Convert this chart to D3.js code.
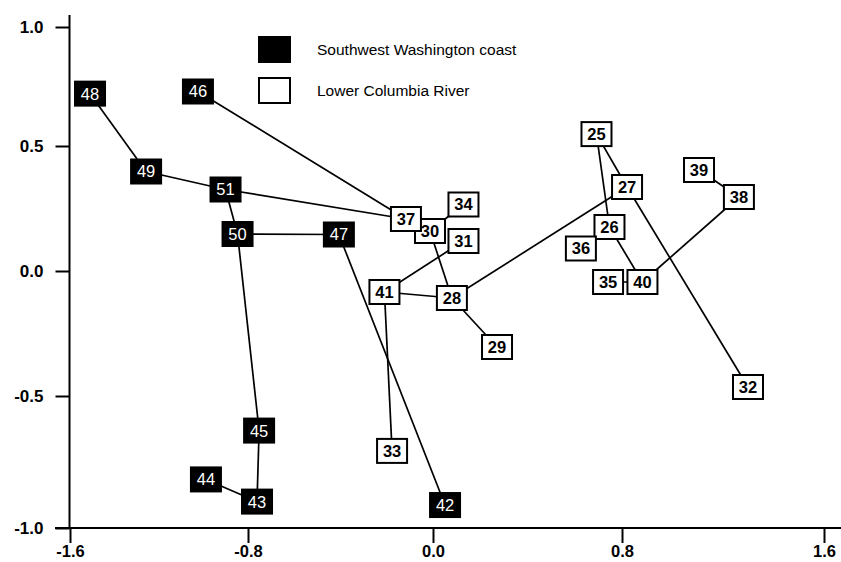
<!DOCTYPE html>
<html>
<head>
<meta charset="utf-8">
<script src="https://cdn.jsdelivr.net/npm/d3@7"></script>
<style>
  html, body { margin: 0; padding: 0; background: #fff; }
  svg { display: block; font-family: "Liberation Sans", Arial, sans-serif; }
</style>
</head>
<body>
<svg id="chart" width="841" height="562"></svg>
<script>
// ---- data ----
const coastIds = ["48", "46", "49", "51", "50", "47", "45", "44", "43", "42"];
const coastX   = [-1.510, -1.025, -1.258, -0.901, -0.847, -0.407, -0.752, -0.989, -0.761, 0.051];
const coastY   = [0.720, 0.729, 0.398, 0.326, 0.148, 0.146, -0.631, -0.816, -0.900, -0.913];

const riverIds = ["37", "30", "34", "31", "41", "28", "29", "33", "25", "27", "39", "38", "36", "26", "35", "40", "32"];
const riverX   = [-0.117, -0.013, 0.129, 0.129, -0.210, 0.080, 0.271, -0.177, 0.692, 0.820, 1.105, 1.263, 0.626, 0.747, 0.741, 0.881, 1.299];
const riverY   = [0.208, 0.160, 0.266, 0.120, -0.084, -0.108, -0.304, -0.708, 0.550, 0.336, 0.404, 0.296, 0.090, 0.176, -0.044, -0.044, -0.464];

const links = [
  ["48", "49"], ["49", "51"], ["51", "37"], ["46", "37"], ["51", "50"], ["50", "47"],
  ["50", "45"], ["45", "43"], ["44", "43"], ["47", "42"],
  ["37", "30"], ["30", "34"], ["30", "28"], ["31", "41"], ["41", "28"], ["41", "33"],
  ["28", "29"], ["28", "27"], ["27", "25"], ["25", "26"], ["26", "40"], ["40", "35"],
  ["40", "38"], ["38", "39"], ["27", "32"]
];

const xTicks = [-1.6, -0.8, 0.0, 0.8, 1.6];
const yTicks = [-1.0, -0.5, 0.0, 0.5, 1.0];
const legendLabels = ["Southwest Washington coast", "Lower Columbia River"];

// ---- scales (the scanned figure is slightly stretched, so a polylinear scale follows its ticks) ----
const x = d3.scaleLinear().domain(xTicks).range([70, 248, 433, 622, 824]);
const y = d3.scaleLinear().domain(yTicks).range([528, 396, 271, 146, 27]);

const fmt = d => d3.format(".1f")(d).replace("\u2212", "-");

const svg = d3.select("#chart");

const pts = {};
coastIds.forEach((id, i) => pts[id] = {id, x: coastX[i], y: coastY[i], group: 0});
riverIds.forEach((id, i) => pts[id] = {id, x: riverX[i], y: riverY[i], group: 1});

// axes
const axX = 69.5, axY = 528;
const gx = svg.append("g").attr("transform", `translate(0,${axY})`)
  .call(d3.axisBottom(x).tickValues(xTicks).tickFormat(fmt).tickSize(15).tickPadding(2).tickSizeOuter(0));
gx.select(".domain").remove();
gx.selectAll("line").attr("stroke", "#000").attr("stroke-width", 2);
gx.selectAll("text").attr("font-size", 16.5).attr("fill", "#000").attr("font-weight", "bold");

const gy = svg.append("g").attr("transform", `translate(${axX},0)`)
  .call(d3.axisLeft(y).tickValues(yTicks).tickFormat(fmt).tickSize(14).tickPadding(12).tickSizeOuter(0));
gy.select(".domain").remove();
gy.selectAll("line").attr("stroke", "#000").attr("stroke-width", 2);
gy.selectAll("text").attr("font-size", 17).attr("fill", "#000").attr("font-weight", "bold");

svg.append("line").attr("x1", axX).attr("x2", axX).attr("y1", 15).attr("y2", axY)
  .attr("stroke", "#000").attr("stroke-width", 2);
svg.append("line").attr("x1", 55).attr("x2", 841).attr("y1", axY).attr("y2", axY)
  .attr("stroke", "#000").attr("stroke-width", 2);

// links
svg.append("g").selectAll("line").data(links).join("line")
  .attr("x1", d => x(pts[d[0]].x)).attr("y1", d => y(pts[d[0]].y))
  .attr("x2", d => x(pts[d[1]].x)).attr("y2", d => y(pts[d[1]].y))
  .attr("stroke", "#000").attr("stroke-width", 1.7);

// boxes
const bw = 30, bh = 24;
const nodes = svg.append("g").selectAll("g").data(Object.values(pts)).join("g")
  .attr("transform", d => `translate(${x(d.x)},${y(d.y)})`);
nodes.append("rect")
  .attr("x", -bw / 2).attr("y", -bh / 2).attr("width", bw).attr("height", bh)
  .attr("fill", d => d.group === 0 ? "#000" : "#fff")
  .attr("stroke", "#000").attr("stroke-width", 2);
nodes.append("text")
  .attr("text-anchor", "middle").attr("dy", "0.36em")
  .attr("font-size", 16.5)
  .attr("font-weight", d => d.group === 0 ? "normal" : "bold")
  .attr("fill", d => d.group === 0 ? "#fff" : "#000")
  .text(d => d.id);

// legend
const lg = svg.append("g");
legendLabels.forEach((lab, i) => {
  const yy = 37 + i * 41;
  lg.append("rect").attr("x", 259).attr("y", yy).attr("width", 31).attr("height", 25)
    .attr("fill", i === 0 ? "#000" : "#fff").attr("stroke", "#000").attr("stroke-width", 2);
  lg.append("text").attr("x", 317).attr("y", yy + 12.5).attr("dy", "0.35em")
    .attr("font-size", 15.5).attr("fill", "#000").text(lab);
});
</script>
</body>
</html>
